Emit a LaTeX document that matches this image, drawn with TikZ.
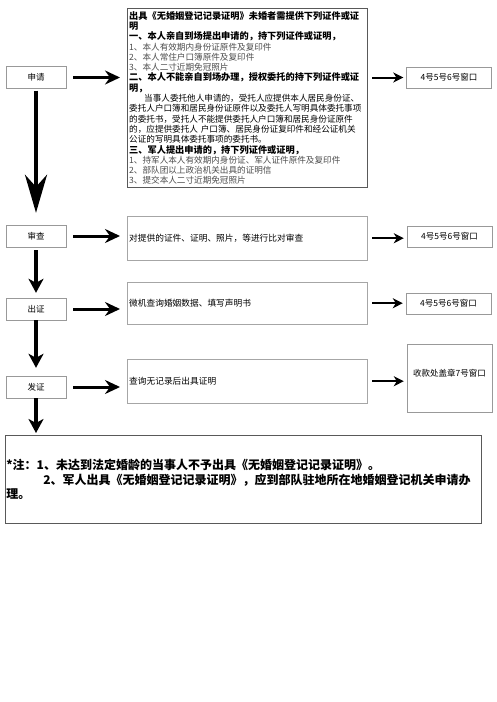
\documentclass[tikz,border=0pt]{standalone}
\usepackage{fontspec}
\setmainfont{Noto Sans CJK SC}
\usetikzlibrary{arrows.meta}
\newcommand\hd[1]{{\bfseries\fontsize{9.2}{10.3}\selectfont #1}}

\begin{document}
\begin{tikzpicture}[x=1pt, y=-1pt,
  stepbox/.style={draw=black!40, minimum width=60pt, minimum height=22pt, inner sep=0pt,
    font=\fontsize{8.5}{10}\selectfont},
  infobox/.style={draw=black!35, anchor=north west, minimum width=240pt, minimum height=44pt,
    text width=236pt, inner xsep=2pt, align=left, font=\fontsize{8.7}{10}\selectfont},
  winbox/.style={draw=black!40, minimum width=85pt, minimum height=21pt, inner sep=0pt,
    font=\fontsize{8.5}{10}\selectfont},
  rowarrow/.style={line width=3pt, -{Stealth[length=15pt,width=14pt,inset=5pt]},
    shorten <=7pt, shorten >=7pt},
  winarrow/.style={line width=2pt, -{Stealth[length=10pt,width=10pt,inset=3pt]},
    shorten <=5pt, shorten >=3pt},
  downarrow/.style={line width=3.5pt, -{Stealth[length=14pt,width=15pt,inset=4pt]}}]
  \fill[white] (0,0) rectangle (496,702);
  \useasboundingbox (0,0) rectangle (496,702);

  % steps on the left
  \node [stepbox] (apply) at (36,77.5) {申请};
  \node [stepbox] (review) at (36,236) {审查};
  \node [stepbox] (issue) at (36,309) {出证};
  \node [stepbox] (grant) at (36,387) {发证};

  % what is needed
  \node [infobox, draw=black!65, inner ysep=3pt, font=\fontsize{8.6}{10.3}\selectfont]
    (req) at (127,8) {%
    \hd{出具《无婚姻登记记录证明》未婚者需提供下列证件或证}\\
    \hd{明}\\
    \hd{一、本人亲自到场提出申请的，持下列证件或证明，}\\
    {\color{black!70}1、本人有效期内身份证原件及复印件}\\
    {\color{black!70}2、本人常住户口簿原件及复印件}\\
    {\color{black!70}3、本人二寸近期免冠照片}\\
    \hd{二、本人不能亲自到场办理，授权委托的持下列证件或证}\\
    \hd{明，}\\
    \hspace*{15pt}当事人委托他人申请的，受托人应提供本人居民身份证、\\
    委托人户口簿和居民身份证原件以及委托人写明具体委托事项\\
    的委托书，受托人不能提供委托人户口簿和居民身份证原件\\
    的，应提供委托人 户口簿、居民身份证复印件和经公证机关\\
    公证的写明具体委托事项的委托书。\\
    \hd{三、军人提出申请的，持下列证件或证明，}\\
    {\color{black!70}1、持军人本人有效期内身份证、军人证件原件及复印件}\\
    {\color{black!70}2、部队团以上政治机关出具的证明信}\\
    {\color{black!70}3、提交本人二寸近期免冠照片}};
  \node [infobox] (check) at (127,216) {对提供的证件、证明、照片，等进行比对审查};
  \node [infobox, minimum height=42pt] (query) at (127,282) {微机查询婚姻数据、填写声明书};
  \node [infobox] (cert) at (127,359) {查询无记录后出具证明};

  % windows on the right
  \node [winbox] (win1) at (449,77.5) {4号5号6号窗口};
  \node [winbox] (win2) at (449.5,236.5) {4号5号6号窗口};
  \node [winbox] (win3) at (448.5,303.5) {4号5号6号窗口};
  \node [winbox, minimum height=68pt, text depth=10pt] (win4) at (449.5,378) {收款处盖章7号窗口};

  % note
  \node [draw=black!65, line width=0.8pt, anchor=north west, minimum width=476pt,
    minimum height=88pt, text width=474pt, inner xsep=1pt, align=left,
    font=\bfseries\fontsize{12}{14.5}\selectfont] (note) at (5,435) {%
    *注：1、未达到法定婚龄的当事人不予出具《无婚姻登记记录证明》。\\
    \hspace*{37pt}2、军人出具《无婚姻登记记录证明》，应到部队驻地所在地婚姻登记机关申请办\\
    理。};

  % arrows
  \draw [rowarrow] (apply) -- (apply -| req.west);
  \draw [rowarrow] (review) -- (review -| check.west);
  \draw [rowarrow] (issue) -- (issue -| query.west);
  \draw [rowarrow] (grant) -- (grant -| cert.west);
  \draw [winarrow] (win1 -| req.east) -- (win1);
  \draw [winarrow] (check) -- (check -| win2.west);
  \draw [winarrow] (query) -- (query -| win3.west);
  \draw [winarrow] (cert) -- (cert -| win4.west);
  \draw [line width=4pt, -{Stealth[length=38pt,width=22pt,inset=12pt]},
    shorten <=2pt, shorten >=12pt] (apply) -- (review);
  \draw [downarrow, shorten <=3pt, shorten >=5pt] (review) -- (issue);
  \draw [downarrow, shorten >=8pt] (issue) -- (grant);
  \draw [downarrow, shorten >=2pt] (grant) -- (grant |- note.north);
\end{tikzpicture}
\end{document}
